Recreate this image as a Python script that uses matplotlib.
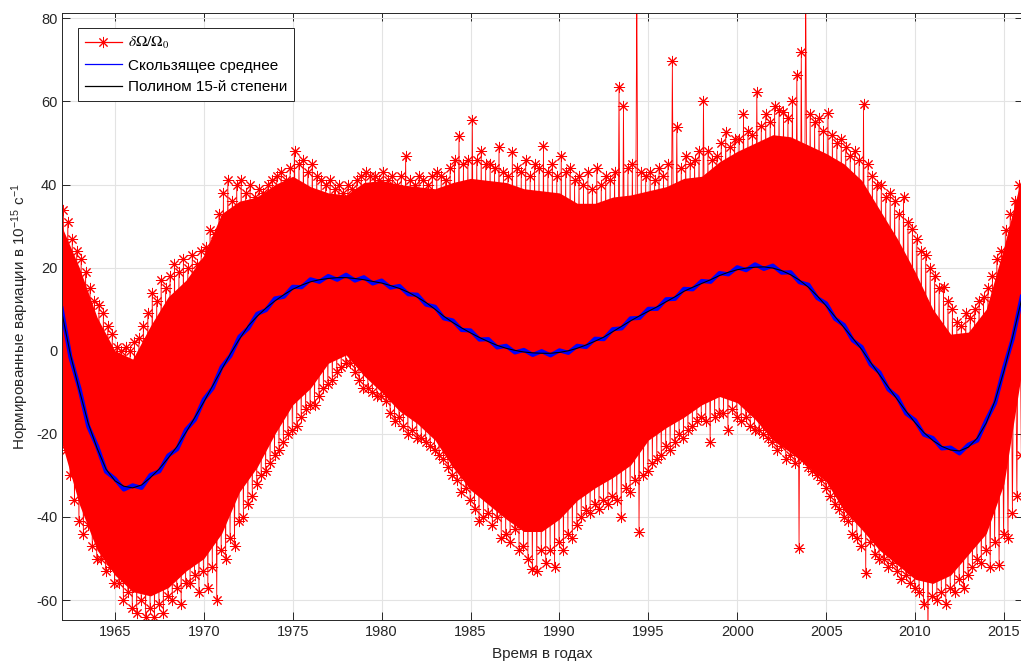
import numpy as np
import matplotlib
matplotlib.use('Agg')
import matplotlib.pyplot as plt

# шрифты и стиль осей
plt.rcParams['font.family'] = ['Liberation Sans', 'DejaVu Sans']
plt.rcParams['mathtext.fontset'] = 'stix'
plt.rcParams['axes.unicode_minus'] = False

# Полином 15-й степени, шаг 0.5 года (1962.0 ... 2016.0)
poly_vals = [
    9.5, -1.0, -9.5, -17.5, -23.5, -28.5, -31.3, -32.6, -33.0, -32.3,
    -30.5, -28.4, -25.8, -23.0, -19.6, -16.0, -12.3, -8.4, -4.5, -0.7,
    2.8, 6.0, 8.3, 10.3, 12.0, 13.5, 14.8, 15.8, 16.6, 17.1,
    17.4, 17.6, 17.6, 17.4, 17.1, 16.7, 16.3, 15.7, 15.0, 14.1,
    12.9, 11.6, 10.0, 8.3, 6.8, 5.5, 4.3, 3.2, 2.2, 1.3,
    0.6, 0.1, -0.3, -0.5, -0.6, -0.6, -0.4, 0.0, 0.6, 1.4,
    2.3, 3.3, 4.6, 5.9, 7.2, 8.4, 9.5, 10.6, 11.8, 13.0,
    14.3, 15.3, 16.2, 17.1, 18.1, 18.9, 19.5, 19.9, 20.1, 20.2,
    19.9, 19.3, 18.3, 17.0, 15.3, 13.2, 10.8, 8.2, 5.6, 3.0,
    0.3, -2.8, -5.8, -8.8, -11.7, -14.6, -17.3, -19.7, -21.6, -23.0,
    -23.9, -24.1, -23.2, -21.0, -17.4, -12.0, -4.8, 3.5, 12.5,
]

# Скользящее среднее, те же моменты времени
moving_avg = [
    10.2, -1.6, -9.0, -18.2, -23.0, -29.1, -30.8, -33.4, -32.4, -33.0,
    -29.9, -29.0, -25.2, -23.7, -19.0, -16.6, -11.7, -9.0, -3.9, -1.2,
    3.4, 5.4, 8.9, 9.8, 12.6, 13.0, 15.4, 15.3, 17.2, 16.6,
    18.0, 17.1, 18.3, 16.9, 17.7, 16.2, 16.9, 15.2, 15.6, 13.6,
    13.5, 11.1, 10.6, 7.8, 7.3, 5.0, 4.9, 2.7, 2.8, 0.8,
    1.2, -0.4, 0.2, -1.0, -0.1, -1.1, 0.1, -0.5, 1.2, 0.9,
    2.9, 2.8, 5.2, 5.4, 7.8, 7.9, 10.1, 10.1, 12.4, 12.5,
    14.9, 14.8, 16.8, 16.6, 18.7, 18.4, 20.1, 19.4, 20.8, 19.7,
    20.5, 18.8, 18.9, 16.5, 15.9, 12.7, 11.4, 7.7, 6.2, 2.5,
    0.9, -3.3, -5.2, -9.3, -11.1, -15.1, -16.7, -20.2, -21.0, -23.5,
    -23.3, -24.7, -22.6, -21.6, -16.8, -12.6, -4.2, 3.0, 13.0,
]

# плотная часть облака δΩ/Ω0 по годам (1962 ... 2016): верх и низ
dense_top = [
    30, 20, 8, 0, -2, 6, 13, 17, 23, 33,
    36, 37, 40, 42, 39.5, 38, 37.5, 40.5, 41, 40,
    39.5, 39, 40.5, 41.5, 41, 40.5, 39, 38.5, 38, 35.5,
    35.5, 37, 37.5, 38.5, 39.5, 41.5, 42, 45.5, 48, 50,
    52, 51.5, 49.5, 47.5, 45, 41, 34, 27, 19, 10,
    4, 4.5, 10, 25, 42,
]
dense_bottom = [
    -22, -37, -48, -54, -58, -59, -57, -53, -50, -44,
    -34, -28, -20, -13, -9, -3, -1, -6, -10, -14.5,
    -17.5, -21.5, -28, -33.5, -37, -40.5, -43.5, -43.5, -40.5, -36,
    -33, -30.5, -27.5, -21.5, -18.5, -16, -13, -11, -12.5, -16.5,
    -21.5, -24.5, -28, -31.5, -38.5, -43, -48, -51.5, -55, -56,
    -54, -49, -44, -32, -5,
]

# отдельные отсчёты δΩ/Ω0 у краёв облака: по 4 за год, верхние и нижние
obs_high = [
    [34, 31, 27, 24], [22, 19, 15, 12], [11, 9, 6, 4], [1, 0, 1, 0],
    [2, 3, 6, 9], [14, 12, 17, 15], [18, 21, 19, 22], [20, 23, 21, 24],
    [25, 29, 28, 33], [38, 41, 36, 40], [41, 38, 40, 37], [39, 38, 40, 41],
    [42, 43, 41, 44], [48, 45, 46, 43], [45, 42, 41, 40], [41, 39, 40, 38],
    [40, 39, 41, 42], [43, 42, 42, 41], [43, 41, 42, 40], [42, 47, 41, 40],
    [42, 41, 40, 42], [43, 42, 41, 44], [46, 51.8, 45, 46], [55.6, 46, 48, 45],
    [45, 44, 49, 43], [42, 47.9, 44, 43], [46, 42, 45, 44], [49.3, 43, 45, 42],
    [47, 43, 44, 41], [42, 40, 43, 39], [44, 40, 42, 41], [43, 63.5, 59, 44],
    [45, 88, 43, 42], [43, 41, 44, 42], [45, 69.7, 53.8, 44], [47, 45, 46, 48],
    [60, 48, 46, 47], [50, 52.6, 49, 51], [51, 56.9, 53, 52], [62.4, 54, 57, 55],
    [59, 58, 57.5, 56], [60, 66.4, 72, 88], [57, 55, 56, 53], [57.3, 52, 50, 51],
    [49, 47, 48, 46], [59.5, 45, 42, 40], [40, 37, 38, 36], [33, 37, 31, 29.4],
    [27, 24, 23, 20], [18, 15, 15.4, 12], [10, 7, 6, 9], [8, 10, 12, 13],
    [15, 18, 22, 24], [29, 33, 36, 40],
]
obs_low = [
    [-24, -30, -36, -41], [-44, -42, -47, -50], [-50, -53, -52, -56], [-56, -60, -58, -62],
    [-63, -60, -64, -62], [-64, -61, -63, -59], [-60, -57, -61, -56], [-56, -54, -58, -53],
    [-57, -52, -60, -48], [-50, -45, -47, -41], [-40, -37, -35, -32], [-30, -29, -27, -25],
    [-24, -22, -20, -19], [-18, -16, -14, -13], [-13, -11, -9, -8], [-7, -5, -4, -3],
    [-3, -5, -7, -9], [-9, -10, -11, -11], [-12, -15, -17, -16], [-18, -20, -19, -21],
    [-21, -22, -23, -24], [-25, -26, -28, -30], [-31, -34, -33, -36], [-38, -41, -40, -39],
    [-42, -40, -45, -44], [-46, -43, -48, -47], [-50, -52.6, -53, -48], [-51, -47.9, -52, -46],
    [-48, -44, -45, -42], [-40, -38.4, -39, -37], [-38, -36, -37, -35], [-36, -40, -33, -34],
    [-31, -43.6, -30, -29], [-27, -26, -25, -23], [-24, -22, -20, -21], [-19, -18, -17, -16],
    [-17, -22, -16, -15], [-15, -19, -14, -16], [-17, -16, -18, -19], [-19, -20, -21, -22],
    [-24, -23, -26, -25], [-27, -47.5, -26, -28], [-29, -30, -31, -33], [-35, -37, -38, -40],
    [-41, -44, -45, -47], [-53.6, -46, -49, -50], [-50, -52, -51, -53], [-55, -54, -56, -57],
    [-58, -61, -70, -59], [-60, -58, -61, -57], [-58, -55, -57, -54], [-52, -50, -51, -48],
    [-52, -46, -51.6, -44], [-45, -39, -35, -25],
]

t_poly = np.arange(1962.0, 2016.01, 0.5)
t_dense = np.arange(1962, 2017)
t_obs = np.arange(1962.1, 2016.0, 0.125)
obs = np.empty(t_obs.size)
obs[0::2] = np.ravel(obs_high)
obs[1::2] = np.ravel(obs_low)

# звёздочка из 8 лучей, как маркер '*' в MATLAB
asterisk = (8, 2, 0)

fig = plt.figure(figsize=(10.21, 6.64), dpi=100)
ax = fig.add_axes([62.3 / 1021, 44 / 664, 960.7 / 1021, 607 / 664])

ax.fill_between(t_dense, dense_bottom, dense_top, color='red', lw=0)
ax.plot(t_obs, obs, color='red', lw=0.6, marker=asterisk, ms=8, mew=0.7,
        label=r'$\delta\Omega/\Omega_0$')
ax.plot(t_poly, moving_avg, color='blue', lw=3, label='Скользящее среднее')
ax.plot(t_poly, poly_vals, color='black', lw=0.8, label='Полином 15-й степени')

ax.set_xlim(1962.04, 2016.07)
ax.set_ylim(-64.8, 81.3)
ax.set_xticks(range(1965, 2016, 5))
ax.set_yticks(range(-60, 81, 20))

ax.grid(True, color='#e3e3e3', lw=0.8)
ax.set_axisbelow(True)
for s in ax.spines.values():
    s.set_color('#262626')
    s.set_linewidth(0.7)
ax.tick_params(direction='in', length=6, width=0.7, colors='#262626',
               labelsize=10.5, top=True, right=True)

ax.set_xlabel('Время в годах', fontsize=11, color='#262626', labelpad=6)
ax.set_ylabel(r'Нормированные вариации в 10$^{\mathregular{-15}}$ с$^{\mathregular{-1}}$',
              fontsize=11, color='#262626', labelpad=4)

leg = ax.legend(loc='upper left', bbox_to_anchor=(0.0163, 0.975), borderaxespad=0,
                fontsize=11, fancybox=False, framealpha=1, edgecolor='#262626',
                handlelength=2.4, handletextpad=0.4, labelspacing=0.5, borderpad=0.45)
leg.get_frame().set_linewidth(0.7)
for h in leg.get_lines():
    h.set_linewidth(0.9)

fig.savefig('out.png', dpi=100)
